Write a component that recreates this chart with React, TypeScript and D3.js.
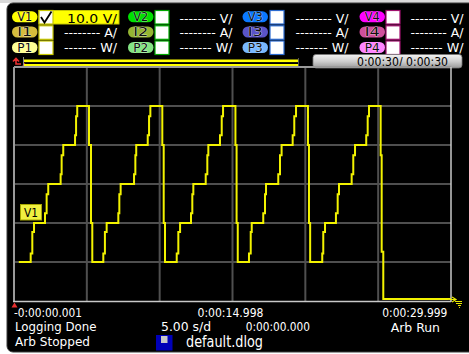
import React from "react";
import * as d3 from "d3";

const W = 469;
const H = 354;

// ---- data ----
const timeDomain = [-0.001, 29.999];
const voltDomain = [0, 60];
const gridTimes = [-0.001, 4.999, 9.999, 14.999, 19.999, 24.999, 29.999];
const gridVolts = [0, 10, 20, 30, 40, 50, 60];

// V1 staircase trace (step-after breakpoints), seconds / volts
const traceTimes = [
  0.33, 1.145, 1.256, 1.373, 2.127, 2.24, 2.35, 3.2, 3.27, 3.38, 4.19, 4.26, 4.34, 5.148, 5.285, 5.374,
  6.13, 6.24, 6.36, 7.16, 7.23, 7.32, 8.24, 8.33, 8.39, 9.18, 9.27, 9.36, 10.18, 10.276, 10.365,
  11.17, 11.28, 11.4, 12.15, 12.24, 12.31, 13.16, 13.27, 13.34, 14.14, 14.26, 14.35, 15.2, 15.28, 15.36,
  16.13, 16.25, 16.32, 17.11, 17.23, 17.3, 18.14, 18.26, 18.37, 19.13, 19.24, 19.36, 20.18, 20.25, 20.33,
  21.16, 21.23, 21.35, 22.1, 22.22, 22.31, 23.18, 23.29, 23.41, 24.18, 24.28, 24.37, 25.17, 25.24, 25.35,
  29.999,
];
const traceVolts = [
  10, 12.2, 17.7, 20, 22.5, 27.4, 30, 32.5, 37.4, 40, 42.5, 47.4, 50, 40, 20, 10,
  12.2, 17.7, 20, 22.5, 27.4, 30, 32.5, 37.4, 40, 42.5, 47.4, 50, 40, 20, 10,
  12.2, 17.7, 20, 22.5, 27.4, 30, 32.5, 37.4, 40, 42.5, 47.4, 50, 40, 20, 10,
  12.2, 17.7, 20, 22.5, 27.4, 30, 32.5, 37.4, 40, 42.5, 47.4, 50, 40, 20, 10,
  12.2, 17.7, 20, 22.5, 27.4, 30, 32.5, 37.4, 40, 42.5, 47.4, 50, 37.4, 12.6, 0.5,
  0.5,
];

const channels = ["1", "2", "3", "4"];
const measures = ["V", "I", "P"];
const unitLabels = ["V/", "A/", "W/"];
const dashLabels = ["--------", "--------", "-------"];
const activeScale = "10.0 V/";
const pillColors = [
  ["#ffff00", "#d6bc3c", "#ffff94"],
  ["#00e000", "#94b432", "#84e484"],
  ["#0a78ff", "#5a54c8", "#78b8ff"],
  ["#ff00ff", "#d0509c", "#ff84ff"],
];
const boxBorders = ["#c8c800", "#00a800", "#2a6ad0", "#a0106e"];

const timeLabels = ["-0:00:00.001", "0:00:14.998", "0:00:29.999"];
const statusLeft = ["Logging Done", "Arb Stopped"];
const secPerDiv = "5.00 s/d";
const offsetTime = "0:00:00.000";
const arbState = "Arb Run";
const fileName = "default.dlog";
const durationLabel = "0:00:30/ 0:00:30";
const traceName = "V1";

const FONT = "DejaVu Sans, Verdana, sans-serif";

export default function App() {
  const x = d3.scaleLinear().domain(timeDomain).range([14, 451]);
  const y = d3.scaleLinear().domain(voltDomain).range([301, 67]);
  const pts: [number, number][] = traceTimes.map((t, i) => [t, traceVolts[i]]);
  const line = d3
    .line<[number, number]>()
    .x((d) => x(d[0]))
    .y((d) => y(d[1]))
    .curve(d3.curveStepAfter);

  const colPill = [12, 128, 242.5, 359.5];
  const colBox = [39, 155, 270, 386];
  const colTextEnd = [117, 232.5, 348.5, 463.5];
  const rowBoxY = [10.5, 25.8, 41];
  const rowPillCy = [16.8, 32, 47.5];
  const rowBase = [22.5, 37.4, 52.2];

  return (
    <svg
      width={W}
      height={H}
      style={{ position: "absolute", left: 0, top: 0, display: "block" }}
      fontFamily={FONT}
    >
      <defs>
        <linearGradient id="gbar" x1="0" y1="0" x2="0" y2="1">
          <stop offset="0" stopColor="#f2f2f2" />
          <stop offset="0.5" stopColor="#cfcfcf" />
          <stop offset="1" stopColor="#9a9a9a" />
        </linearGradient>
      </defs>
      <rect x={0} y={0} width={W} height={H} fill="#ffffff" />
      <rect x={0} y={0} width={W} height={3} fill="#d9d9d9" />
      <rect x={7} y={3} width={470} height={349} rx={6} fill="#000" stroke="#3a3a3a" strokeWidth={1} />

      {/* header */}
      {channels.map((ch, c) =>
        measures.map((m, r) => (
          <g key={ch + m}>
            <rect
              x={colPill[c]}
              y={rowPillCy[r] - 5.5}
              width={25.5}
              height={11}
              rx={5.5}
              fill={pillColors[c][r]}
            />
            <text
              x={colPill[c] + 12.75}
              y={rowPillCy[r] + 4.2}
              fontSize={12}
              textAnchor="middle"
              fill="#101010"
              stroke="#ffffff"
              strokeWidth={0.4}
              paintOrder="stroke"
              textLength={15}
              lengthAdjust="spacingAndGlyphs"
            >
              {m + ch}
            </text>
            {c === 0 && r === 0 ? (
              <g>
                <rect x={colBox[c]} y={rowBoxY[r]} width={80} height={13.5} fill="#ffff00" stroke={boxBorders[c]} strokeWidth={1} />
                <rect x={colBox[c]} y={rowBoxY[r]} width={14} height={13.5} fill="#ffffff" stroke={boxBorders[c]} strokeWidth={1.2} />
                <path d="M41,17 L44.5,22.5 L51.5,11.5" fill="none" stroke="#000" strokeWidth={1.8} />
                <text
                  x={colTextEnd[c]}
                  y={rowBase[r]}
                  fontSize={13}
                  textAnchor="end"
                  fill="#000"
                  textLength={50}
                  lengthAdjust="spacingAndGlyphs"
                >
                  {activeScale}
                </text>
              </g>
            ) : (
              <g>
                <rect x={colBox[c]} y={rowBoxY[r]} width={14} height={13.5} fill="#ffffff" stroke={boxBorders[c]} strokeWidth={1.2} />
                <text
                  x={colTextEnd[c]}
                  y={rowBase[r]}
                  fontSize={13}
                  textAnchor="end"
                  fill="#ffffff"
                  textLength={53}
                  lengthAdjust="spacingAndGlyphs"
                >
                  {dashLabels[r] + " " + unitLabels[r]}
                </text>
              </g>
            )}
          </g>
        ))
      )}

      {/* timeline bar */}
      <path d="M13,61.5 L16,58.3 L19,61.5 M16,58.8 V64 H21" fill="none" stroke="#e83030" strokeWidth={1.6} />
      <path d="M21.5,67 L24.5,62.8 L27.5,67 Z" fill="#e83030" />
      <line x1={23.5} x2={23.5} y1={57} y2={67} stroke="#8a8a8a" strokeWidth={1} />
      <rect x={24} y={59.5} width={274} height={2.6} fill="#ffff00" />
      <rect x={24} y={64} width={274} height={2.6} fill="#ffff00" />
      <line x1={298.5} x2={298.5} y1={58} y2={67} stroke="#555" strokeWidth={1} />
      <rect x={313} y={54.5} width={149} height={13.5} rx={3} fill="url(#gbar)" stroke="#777" strokeWidth={0.8} />
      <text x={448} y={66} fontSize={12} textAnchor="end" fill="#000" textLength={91} lengthAdjust="spacingAndGlyphs">
        {durationLabel}
      </text>

      {/* grid */}
      {gridTimes.slice(1, -1).map((t) => (
        <line key={"vx" + t} x1={x(t)} x2={x(t)} y1={67} y2={301} stroke="#4f4f4f" strokeWidth={2} />
      ))}
      {gridVolts.slice(1, -1).map((v) => (
        <line key={"hy" + v} x1={14} x2={451} y1={y(v)} y2={y(v)} stroke="#4f4f4f" strokeWidth={2} />
      ))}
      <line x1={14} x2={451} y1={67} y2={67} stroke="#9a9a9a" strokeWidth={2} />
      <line x1={14} x2={14} y1={67} y2={302} stroke="#9a9a9a" strokeWidth={2} />
      <line x1={451} x2={451} y1={67} y2={302} stroke="#c8c8c8" strokeWidth={1.5} />
      <line x1={13} x2={451} y1={301.5} y2={301.5} stroke="#c8c8c8" strokeWidth={1.5} />

      {/* trace */}
      <path d={line(pts) || ""} fill="none" stroke="#f2f200" strokeWidth={2} />

      {/* V1 marker */}
      <rect x={20.5} y={204.5} width={21} height={15.5} fill="#f0f040" stroke="#a8a800" strokeWidth={1} />
      <text x={31} y={217} fontSize={12} textAnchor="middle" fill="#000" textLength={14} lengthAdjust="spacingAndGlyphs">
        {traceName}
      </text>

      {/* markers at axis ends */}
      <path d="M11.5,307.5 L14.5,302.5 L17.5,307.5 Z" fill="#e83030" />
      <path
        d="M448,299.5 H456 M452,297 L456,299.5 L452,302 M455,301.5 H462 M456,303.5 H462 M458,305.5 H461 M459,307.5 H460"
        fill="none"
        stroke="#e8e800"
        strokeWidth={1.2}
      />

      {/* bottom texts */}
      <g fill="#ffffff">
        <text x={14} y={316.5} fontSize={12} textLength={68} lengthAdjust="spacingAndGlyphs">{timeLabels[0]}</text>
        <text x={197.5} y={316.5} fontSize={12} textLength={66} lengthAdjust="spacingAndGlyphs">{timeLabels[1]}</text>
        <text x={382.3} y={316.5} fontSize={12} textLength={65} lengthAdjust="spacingAndGlyphs">{timeLabels[2]}</text>
        <text x={15} y={331} fontSize={12.5} textLength={81.5} lengthAdjust="spacingAndGlyphs">{statusLeft[0]}</text>
        <text x={15} y={345.5} fontSize={12.5} textLength={75} lengthAdjust="spacingAndGlyphs">{statusLeft[1]}</text>
        <text x={161} y={331} fontSize={12} textLength={50} lengthAdjust="spacingAndGlyphs">{secPerDiv}</text>
        <text x={245.7} y={331} fontSize={12} textLength={64.3} lengthAdjust="spacingAndGlyphs">{offsetTime}</text>
        <text x={390.7} y={331.5} fontSize={12} textLength={49.3} lengthAdjust="spacingAndGlyphs">{arbState}</text>
        <text x={186} y={347} fontSize={15} textLength={77} lengthAdjust="spacingAndGlyphs">{fileName}</text>
      </g>
      <rect x={156} y={335} width={16.5} height={15.5} fill="#0000b8" />
      <rect x={161} y={336} width={6.5} height={7} fill="#c8c8c8" />
    </svg>
  );
}
